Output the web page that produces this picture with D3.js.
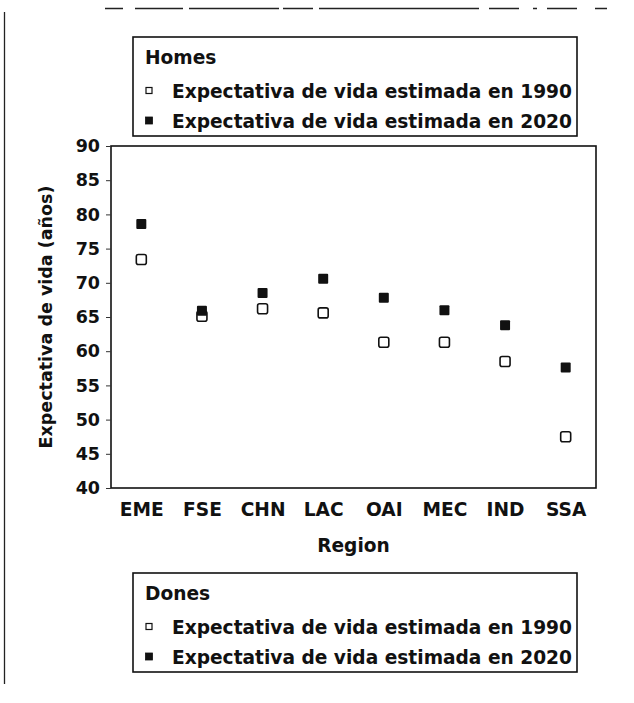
<!DOCTYPE html>
<html>
<head>
<meta charset="utf-8">
<script src="https://cdn.jsdelivr.net/npm/d3@7.9.0/dist/d3.min.js"></script>
<style>
  html, body { margin: 0; padding: 0; background: #fff; }
  svg { display: block; }
  text { font-family: "DejaVu Sans", sans-serif; font-weight: bold; fill: #111; }
</style>
</head>
<body>
<svg id="chart" width="634" height="703"></svg>
<script>
const regions = ["EME", "FSE", "CHN", "LAC", "OAI", "MEC", "IND", "SSA"];
const life1990 = [73.4, 65.1, 66.2, 65.6, 61.3, 61.3, 58.5, 47.5];
const life2020 = [78.6, 65.9, 68.5, 70.6, 67.8, 66.0, 63.8, 57.6];
const yTicks = [40, 45, 50, 55, 60, 65, 70, 75, 80, 85, 90];
const legendTop = ["Homes", "Expectativa de vida estimada en 1990", "Expectativa de vida estimada en 2020"];
const legendBottom = ["Dones", "Expectativa de vida estimada en 1990", "Expectativa de vida estimada en 2020"];

const svg = d3.select("#chart");
const plot = { left: 111, right: 596, top: 146, bottom: 488 };
const fs = "18.6px";

const x = d3.scalePoint().domain(regions).range([plot.left, plot.right]).padding(0.5);
const y = d3.scaleLinear().domain([40, 90]).range([plot.bottom, plot.top]);

// scan edges of the original page
svg.append("line")
  .attr("x1", 4.5).attr("x2", 4.5).attr("y1", 12).attr("y2", 684)
  .attr("stroke", "#222").attr("stroke-width", 1.3);
svg.append("line")
  .attr("x1", 105).attr("x2", 634).attr("y1", 8.5).attr("y2", 8.5)
  .attr("stroke", "#222").attr("stroke-width", 1.3)
  .attr("stroke-dasharray", "18 12 48 6 90 4 30 6 160 10 30 14 4 10 30");

// plot frame
svg.append("rect")
  .attr("x", plot.left).attr("y", plot.top)
  .attr("width", plot.right - plot.left).attr("height", plot.bottom - plot.top)
  .attr("fill", "none").attr("stroke", "#111").attr("stroke-width", 1.6);

const yAxis = svg.append("g")
  .attr("transform", `translate(${plot.left},0)`)
  .call(d3.axisLeft(y).tickValues(yTicks).tickSize(5).tickPadding(6));
yAxis.select(".domain").remove();
yAxis.selectAll("text").style("font-size", "17.5px").attr("fill", "#111")
  .style("font-family", null);
yAxis.selectAll("line").attr("stroke", "#333");

const xAxis = svg.append("g")
  .attr("transform", `translate(0,${plot.bottom})`)
  .call(d3.axisBottom(x).tickSize(0).tickPadding(15));
xAxis.select(".domain").remove();
xAxis.selectAll("text").style("font-size", fs).attr("fill", "#111")
  .style("font-family", null);

svg.append("text")
  .attr("x", (plot.left + plot.right) / 2).attr("y", 552)
  .attr("text-anchor", "middle").style("font-size", fs)
  .text("Region");

svg.append("text")
  .attr("transform", `translate(52,${(plot.top + plot.bottom) / 2}) rotate(-90)`)
  .attr("text-anchor", "middle").style("font-size", "17.5px")
  .text("Expectativa de vida (años)");

const ms = 10;
svg.append("g").selectAll("rect")
  .data(regions)
  .join("rect")
  .attr("x", (d) => x(d) - ms / 2)
  .attr("y", (d, i) => y(life1990[i]) - ms / 2)
  .attr("width", ms).attr("height", ms).attr("rx", 2)
  .attr("fill", "#fff").attr("stroke", "#111").attr("stroke-width", 1.6);

svg.append("g").selectAll("rect")
  .data(regions)
  .join("rect")
  .attr("x", (d) => x(d) - ms / 2)
  .attr("y", (d, i) => y(life2020[i]) - ms / 2)
  .attr("width", ms).attr("height", ms).attr("rx", 1)
  .attr("fill", "#111");

function drawLegend(top, labels) {
  const g = svg.append("g").attr("transform", `translate(133,${top})`);
  g.append("rect")
    .attr("width", 444).attr("height", 99)
    .attr("fill", "#fff").attr("stroke", "#111").attr("stroke-width", 1.6);
  g.append("text").attr("x", 12).attr("y", 27).style("font-size", fs).text(labels[0]);
  [1, 2].forEach((k) => {
    const base = k === 1 ? 61 : 91;
    const s = k === 1 ? 6 : 7;
    g.append("rect")
      .attr("x", 16 - s / 2).attr("y", base - 7.5 - s / 2).attr("width", s).attr("height", s)
      .attr("fill", k === 1 ? "#fff" : "#111")
      .attr("stroke", "#111").attr("stroke-width", k === 1 ? 1.2 : 0.8);
    g.append("text").attr("x", 39).attr("y", base)
      .style("font-size", fs).text(labels[k]);
  });
}

drawLegend(37, legendTop);
drawLegend(573, legendBottom);
</script>
</body>
</html>
